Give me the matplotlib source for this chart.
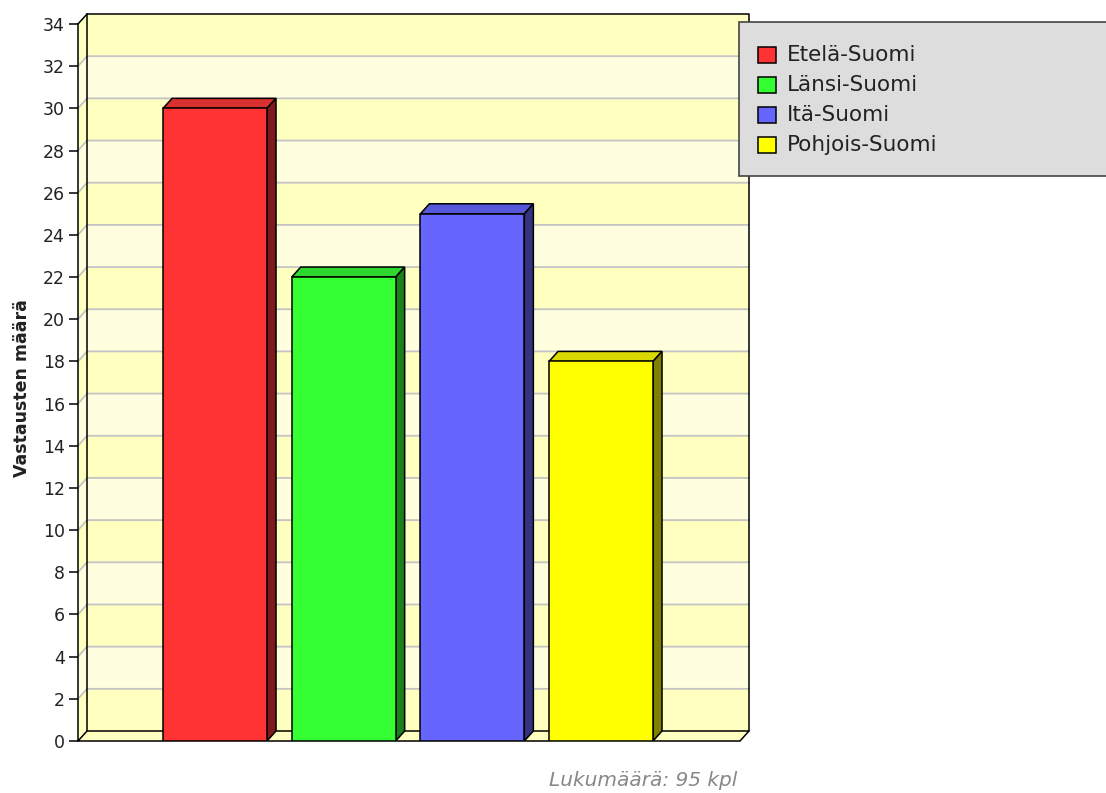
import matplotlib.pyplot as plt
from matplotlib.patches import Rectangle, Polygon

# regions and number of answers
regions = ['Etelä-Suomi', 'Länsi-Suomi', 'Itä-Suomi', 'Pohjois-Suomi']
answers = [30, 22, 25, 18]
y_ticks = list(range(0, 35, 2))

front_colors = ['#FF3333', '#33FF33', '#6666FF', '#FFFF00']
top_colors = ['#D93030', '#2ED82E', '#5757D9', '#D9D900']
side_colors = ['#801A1A', '#1A801A', '#333380', '#808000']

W, H = 1106, 793
fig = plt.figure(figsize=(W / 100, H / 100), dpi=100)
fig.patch.set_facecolor('white')

# front plane of the plot (pixel box)
ax_left, ax_bottom, ax_w, ax_h = 78, 52, 662, 717
ax = fig.add_axes([ax_left / W, ax_bottom / H, ax_w / W, ax_h / H])
xl, xr = -1.065, 4.08
ymax = 34
ax.set_xlim(xl, xr)
ax.set_ylim(0, ymax)
ax.set_facecolor('none')

# 3d depth offset in data units (9 px right, 10 px up)
dx = 9 * (xr - xl) / ax_w
dy = 10 * ymax / ax_h

band_dark = '#FFFFC0'
band_light = '#FFFFE0'
grid_col = '#C4C4C4'

# back wall and left wall with alternating bands
for k in range(len(y_ticks) - 1):
    y0 = y_ticks[k]
    y1 = y_ticks[k + 1]
    c = band_dark if k % 2 == 0 else band_light
    ax.add_patch(Rectangle((xl + dx, y0 + dy), xr - xl, y1 - y0, facecolor=c,
                           edgecolor='none', clip_on=False, zorder=0))
    ax.add_patch(Polygon([(xl, y0), (xl + dx, y0 + dy), (xl + dx, y1 + dy), (xl, y1)],
                         closed=True, facecolor=c, edgecolor='none', clip_on=False, zorder=0))

# gridlines
for v in y_ticks[1:-1]:
    ax.plot([xl, xl + dx, xr + dx], [v, v + dy, v + dy], color=grid_col, lw=1.3,
            clip_on=False, zorder=1)

# floor
ax.add_patch(Polygon([(xl, 0), (xr, 0), (xr + dx, dy), (xl + dx, dy)], closed=True,
                     facecolor=band_dark, edgecolor='black', lw=1.1, clip_on=False, zorder=2))

# outlines of the walls
ax.plot([xl, xl + dx, xr + dx, xr + dx], [ymax, ymax + dy, ymax + dy, dy],
        color='black', lw=1.1, clip_on=False, zorder=2)
ax.plot([xl + dx, xl + dx], [dy, ymax + dy], color='black', lw=1.1, clip_on=False, zorder=2)

# bars
bar_w = 0.808
for i, v in enumerate(answers):
    x0 = i - bar_w / 2
    x1 = i + bar_w / 2
    ax.add_patch(Polygon([(x0, v), (x1, v), (x1 + dx, v + dy), (x0 + dx, v + dy)], closed=True,
                         facecolor=top_colors[i], edgecolor='black', lw=1.1, zorder=5))
    ax.add_patch(Polygon([(x1, 0), (x1 + dx, dy), (x1 + dx, v + dy), (x1, v)], closed=True,
                         facecolor=side_colors[i], edgecolor='black', lw=1.1, zorder=5))
    ax.add_patch(Rectangle((x0, 0), bar_w, v, facecolor=front_colors[i],
                           edgecolor='black', lw=1.1, zorder=6))

# axes styling
for s in ['top', 'right', 'bottom']:
    ax.spines[s].set_visible(False)
ax.spines['left'].set_linewidth(1.1)
ax.spines['left'].set_zorder(3)
ax.set_xticks([])
ax.set_yticks(y_ticks)
ax.tick_params(axis='y', length=6.5, width=1.1, labelsize=12.5, pad=3, labelcolor='#222222')

fig.text(22 / W, (H - 388) / H, 'Vastausten määrä', rotation=90, ha='center', va='center',
         fontsize=12.5, fontweight='bold', color='#222222')

fig.text(737 / W, (H - 780) / H, 'Lukumäärä: %d kpl' % sum(answers), ha='right', va='center',
         fontsize=14.5, style='italic', color='#888888')

# legend box
fig.add_artist(Rectangle((739 / W, (H - 176) / H), 380 / W, 154 / H, transform=fig.transFigure,
                         facecolor='#DDDDDD', edgecolor='#444444', lw=1.2, zorder=1))
for i, name in enumerate(regions):
    yc = 55 + 30 * i
    fig.add_artist(Rectangle((758 / W, (H - yc - 8) / H), 18 / W, 16 / H,
                             transform=fig.transFigure, facecolor=front_colors[i],
                             edgecolor='black', lw=1.1, zorder=2))
    fig.text(787 / W, (H - yc) / H, name, ha='left', va='center', fontsize=15.5,
             color='#222222', zorder=2)

fig.savefig('out.png', dpi=100)
